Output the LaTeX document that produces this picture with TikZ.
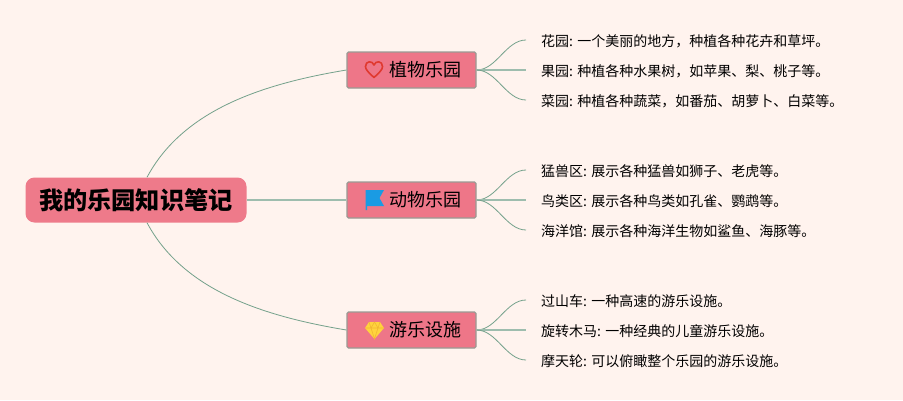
\documentclass[tikz,border=0pt]{standalone}
\usepackage{fontspec}
\usepackage{xcolor}
\setmainfont{Noto Sans CJK SC}
\usetikzlibrary{shapes.geometric, arrows, fit, backgrounds}
\definecolor{pagebg}{HTML}{FFF3EE}
\definecolor{rootfill}{HTML}{EE7A8A}
\definecolor{topicfill}{HTML}{EE7688}
\definecolor{topicline}{HTML}{9A9A94}
\definecolor{branch}{HTML}{74A18B}
\definecolor{flagblue}{HTML}{1A9BE3}
\definecolor{gemfill}{HTML}{FFD33D}
\definecolor{gemline}{HTML}{F2B632}
\definecolor{heartred}{HTML}{E0392F}
\tikzstyle{rootbox} = [rectangle, rounded corners=9pt, minimum width=221pt, minimum height=45pt, text centered, fill=rootfill, font=\fontsize{24.2}{28}\selectfont\bfseries]
\tikzstyle{topic} = [rectangle, rounded corners=1.5pt, minimum width=129pt, minimum height=36pt, text centered, draw=topicline, line width=1.2pt, fill=topicfill, font=\fontsize{18}{22}\selectfont]
\tikzstyle{leaf} = [draw=none, fill=none, inner xsep=0pt, inner ysep=2pt, yshift=-1pt, font=\fontsize{14}{18}\selectfont]
\tikzstyle{link} = [draw=branch, line width=0.8pt]
\tikzstyle{straightlink} = [draw=branch!70, line width=1.1pt]

\begin{document}
\begin{tikzpicture}[x=1pt, y=1pt, node distance=30pt]
\useasboundingbox [fill=pagebg] (0,0) rectangle (903,-400);

% --------- Root and topics ----------
\node (ROOT)   [rootbox] at (136,-200) {我的乐园知识笔记};
\node (PLANT)  [topic, right of=ROOT, xshift=245.5pt, yshift=130pt] {\hspace*{27pt}植物乐园};
\node (ANIMAL) [topic, right of=ROOT, xshift=245.5pt] {\hspace*{27pt}动物乐园};
\node (RIDES)  [topic, right of=ROOT, xshift=245.5pt, yshift=-130pt] {\hspace*{27pt}游乐设施};

% --------- Plant leaves ----------
\node (P1) [leaf, right of=PLANT, xshift=99.5pt, yshift=30pt, anchor=west]  {花园: 一个美丽的地方，种植各种花卉和草坪。};
\node (P2) [leaf, right of=PLANT, xshift=99.5pt, anchor=west]               {果园: 种植各种水果树，如苹果、梨、桃子等。};
\node (P3) [leaf, right of=PLANT, xshift=99.5pt, yshift=-30pt, anchor=west] {菜园: 种植各种蔬菜，如番茄、胡萝卜、白菜等。};

% --------- Animal leaves ----------
\node (A1) [leaf, right of=ANIMAL, xshift=99.5pt, yshift=30pt, anchor=west]  {猛兽区: 展示各种猛兽如狮子、老虎等。};
\node (A2) [leaf, right of=ANIMAL, xshift=99.5pt, anchor=west]               {鸟类区: 展示各种鸟类如孔雀、鹦鹉等。};
\node (A3) [leaf, right of=ANIMAL, xshift=99.5pt, yshift=-30pt, anchor=west] {海洋馆: 展示各种海洋生物如鲨鱼、海豚等。};

% --------- Ride leaves ----------
\node (R1) [leaf, right of=RIDES, xshift=99.5pt, yshift=30pt, anchor=west]  {过山车: 一种高速的游乐设施。};
\node (R2) [leaf, right of=RIDES, xshift=99.5pt, anchor=west]               {旋转木马: 一种经典的儿童游乐设施。};
\node (R3) [leaf, right of=RIDES, xshift=99.5pt, yshift=-30pt, anchor=west] {摩天轮: 可以俯瞰整个乐园的游乐设施。};

% Leaf line ends, left of the texts
\foreach \n in {P1,P2,P3,A1,A2,A3,R1,R2,R3}
  \coordinate (\n END) at ([xshift=-15pt, yshift=1pt]\n.west);

% Edges (root to topics)
\draw [link] ([xshift=11pt]ROOT.north) .. controls (183,-110) and (262,-84) .. (PLANT.west);
\draw [straightlink] (ROOT) -- (ANIMAL);
\draw [link] ([xshift=11pt]ROOT.south) .. controls (183,-290) and (262,-316) .. (RIDES.west);

% Edges (topics to leaves)
\foreach \t/\a/\b/\c in {PLANT/P1/P2/P3, ANIMAL/A1/A2/A3, RIDES/R1/R2/R3} {
  \draw [link] (\t.east) .. controls ([xshift=20pt]\t.east) and ([xshift=-20pt]\a END) .. (\a END);
  \draw [straightlink] (\t.east) -- (\b END);
  \draw [link] (\t.east) .. controls ([xshift=20pt]\t.east) and ([xshift=-20pt]\c END) .. (\c END);
}

% Icons
\draw [draw=heartred, line width=1.6pt, line join=round]
  (374,-77.5) .. controls (368,-72) and (365.5,-69.5) .. (365.5,-66.5)
  .. controls (365.5,-60.5) and (372.5,-60.5) .. (374,-65)
  .. controls (375.5,-60.5) and (382.5,-60.5) .. (382.5,-66.5)
  .. controls (382.5,-69.5) and (380,-72) .. (374,-77.5) -- cycle;
\fill [flagblue] (365.5,-190) -- (384,-190) -- (379.5,-198) -- (384,-206) -- (367,-206) -- (367,-210) -- (365.5,-210) -- cycle;
\fill [gemfill] (369,-322) -- (380,-322) -- (384,-328) -- (374.5,-339) -- (365,-328) -- cycle;
\draw [gemline, line width=0.6pt] (365,-328) -- (384,-328) (369,-322) -- (371,-328) -- (374.5,-339) -- (378,-328) -- (380,-322) (371,-328) -- (374.5,-322) -- (378,-328);

\end{tikzpicture}
\end{document}
